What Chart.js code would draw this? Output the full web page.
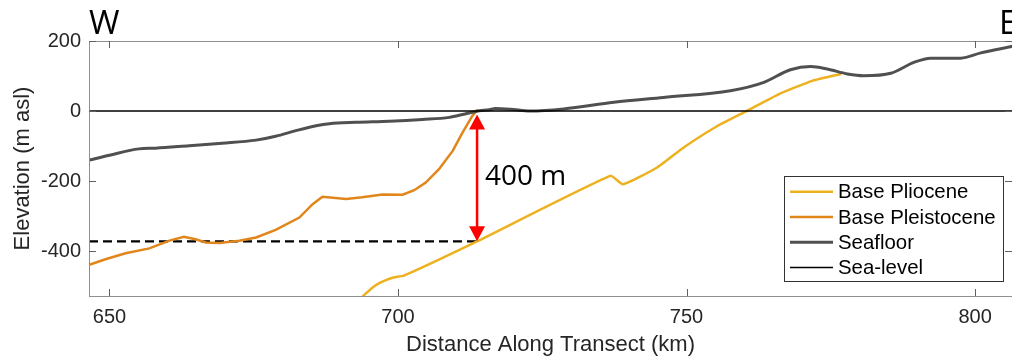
<!DOCTYPE html>
<html><head><meta charset="utf-8">
<script src="https://cdn.jsdelivr.net/npm/chart.js@4/dist/chart.umd.min.js"></script>
<style>html,body{margin:0;padding:0;background:#fff;}#wrap{width:1012px;height:360px;position:relative;}</style>
</head><body><div id="wrap"><canvas id="c" width="1012" height="360"></canvas></div>
<script>
// ---- data ----
const xTicks = [650, 700, 750, 800];
const yTicks = [-400, -200, 0, 200];

const plioceneKm   = [693.8, 695.5, 697.0, 699.2, 701.0, 713.7, 736.8, 739.0, 744.9, 749.5, 755.2, 760.4, 766.2, 771.9, 776.8];
const plioceneElev = [-530, -505, -489, -475, -470, -372, -185, -209, -161, -104, -44, 0, 50, 87, 106];

const pleistoceneKm   = [646.5, 649.3, 652.8, 656.9, 660.4, 662.9, 664.9, 666.7, 669.0, 672.5, 675.4, 678.8, 682.9, 685.2, 686.9, 691.0, 693.8, 697.3, 700.8, 702.8, 704.8, 707.1, 709.5, 711.2, 712.9, 713.8];
const pleistoceneElev = [-439, -423, -406, -392, -370, -359, -366, -375, -377, -370, -361, -339, -304, -266, -245, -251, -246, -238, -239, -226, -204, -166, -113, -61, -13, 4];

const seafloorKm   = [646.5, 650.0, 655.1, 658.0, 663.8, 669.5, 675.4, 678.8, 682.3, 685.8, 688.1, 692.7, 698.5, 704.2, 708.9, 711.2, 713.5, 715.8, 716.9, 719.5, 722.9, 728.7, 737.4, 746.0, 757.6, 763.4, 768.0, 771.5, 774.4, 777.9, 780.7, 785.4, 789.4, 792.3, 797.5, 801.0, 806.5];
const seafloorElev = [-140, -126, -108, -106, -99, -92, -83, -72, -56, -42, -36, -32, -29, -24, -18, -10, -1, 4, 7, 5, 0, 6, 25, 39, 58, 82, 118, 127, 120, 106, 101, 108, 139, 151, 151, 166, 185];

const seaLevelKm   = [646.45, 806.4];
const seaLevelElev = [0, 0];

const refLineKm   = [646.45, 713.7];
const refLineElev = [-372, -372];

const arrowKm = 713.7;
const arrowTopElev = -10;
const arrowBottomElev = -372;
const arrowLabel = '400 m';

const seriesLabels = ['Base Pliocene', 'Base Pleistocene', 'Seafloor', 'Sea-level'];

const zip = (xs, ys) => xs.map((x, i) => ({x: x, y: ys[i]}));

// ---- overlay plugin: box, inward ticks, arrow, W/E, legend ----
const overlay = {
  id: 'overlay',
  afterDatasetsDraw(chart) {
    const c = chart.ctx, a = chart.chartArea;
    const xs = chart.scales.x, ys = chart.scales.y;
    c.save();
    // box
    c.strokeStyle = '#8f8f8f'; c.lineWidth = 1;
    c.strokeRect(a.left + 0.5, a.top + 0.5, a.right - a.left, a.bottom - a.top);
    // inward ticks
    c.strokeStyle = '#606060';
    c.beginPath();
    xTicks.forEach(v => {
      const px = Math.round(xs.getPixelForValue(v)) + 0.5;
      c.moveTo(px, a.bottom); c.lineTo(px, a.bottom - 7);
      c.moveTo(px, a.top); c.lineTo(px, a.top + 7);
    });
    yTicks.forEach(v => {
      const py = Math.round(ys.getPixelForValue(v)) + 0.5;
      c.moveTo(a.left, py); c.lineTo(a.left + 7, py);
      c.moveTo(a.right, py); c.lineTo(a.right - 7, py);
    });
    c.stroke();

    // red double arrow
    const ax = xs.getPixelForValue(arrowKm);
    const yT = ys.getPixelForValue(arrowTopElev);
    const yB = ys.getPixelForValue(arrowBottomElev);
    const hl = 15, hw = 8;
    c.strokeStyle = '#ff0000'; c.fillStyle = '#ff0000'; c.lineWidth = 2.5;
    c.beginPath(); c.moveTo(ax, yT + hl - 1); c.lineTo(ax, yB - hl + 1); c.stroke();
    c.beginPath(); c.moveTo(ax, yT); c.lineTo(ax - hw, yT + hl); c.lineTo(ax + hw, yT + hl); c.closePath(); c.fill();
    c.beginPath(); c.moveTo(ax, yB); c.lineTo(ax - hw, yB - hl); c.lineTo(ax + hw, yB - hl); c.closePath(); c.fill();
    // label
    c.fillStyle = '#000'; c.font = '28px "Open Sans"'; c.textAlign = 'left'; c.textBaseline = 'alphabetic';
    c.fillText(arrowLabel, ax + 8, (yT + yB) / 2 + 7);

    // W / E
    c.font = '33px "Open Sans"'; c.textBaseline = 'alphabetic';
    c.fillText('W', a.left, 34);
    c.fillText('E', 999, 34);

    // legend
    const lx = 784.5, ly = 176.5, lw = 219, lh = 105;
    c.fillStyle = '#fff'; c.fillRect(lx, ly, lw, lh);
    c.strokeStyle = '#333'; c.lineWidth = 1; c.strokeRect(lx, ly, lw, lh);
    c.font = '20.4px "Liberation Sans"'; c.textBaseline = 'middle'; c.textAlign = 'left';
    chart.data.datasets.slice(0, 4).forEach((ds, i) => {
      const ry = 191.7 + i * 25.3;
      c.strokeStyle = ds.borderColor; c.lineWidth = ds.borderWidth;
      c.beginPath(); c.moveTo(790, ry); c.lineTo(833, ry); c.stroke();
      c.fillStyle = '#000'; c.fillText(ds.label, 838, ry + 1);
    });
    c.restore();
  }
};

const tickFont = {family: 'Liberation Sans', size: 20};
const titleFont = {family: 'Liberation Sans', size: 22};

new Chart(document.getElementById('c'), {
  type: 'line',
  data: {
    datasets: [
      {label: seriesLabels[0], data: zip(plioceneKm, plioceneElev), borderColor: '#EDB120', borderWidth: 2.5, tension: 0.15, order: 4},
      {label: seriesLabels[1], data: zip(pleistoceneKm, pleistoceneElev), borderColor: '#E0861A', borderWidth: 2.5, tension: 0, order: 3},
      {label: seriesLabels[2], data: zip(seafloorKm, seafloorElev), borderColor: '#505050', borderWidth: 3, tension: 0.4, cubicInterpolationMode: 'monotone', order: 2},
      {label: seriesLabels[3], data: zip(seaLevelKm, seaLevelElev), borderColor: '#000000', borderWidth: 1.5, tension: 0, order: 1},
      {label: 'ref', data: zip(refLineKm, refLineElev), borderColor: '#000000', borderWidth: 2.2, borderDash: [9, 5], tension: 0, order: 5}
    ]
  },
  options: {
    responsive: false, animation: false, devicePixelRatio: 1,
    layout: {padding: {top: 41, right: 0, left: 0, bottom: 0}},
    elements: {point: {radius: 0, hoverRadius: 0}},
    plugins: {legend: {display: false}, tooltip: {enabled: false}},
    scales: {
      x: {
        type: 'linear', min: 646.45, max: 806.4,
        afterBuildTicks: s => { s.ticks = xTicks.map(v => ({value: v})); },
        afterFit: s => { s.height = 64; },
        grid: {display: false, drawTicks: false}, border: {display: false},
        ticks: {font: tickFont, color: '#262626', padding: 9, maxRotation: 0, autoSkip: false},
        title: {display: true, text: 'Distance Along Transect (km)', font: titleFont, color: '#262626', padding: {top: 0, bottom: 2}}
      },
      y: {
        type: 'linear', min: -528, max: 200,
        afterBuildTicks: s => { s.ticks = yTicks.map(v => ({value: v})); },
        afterFit: s => { s.width = 89; },
        grid: {display: false, drawTicks: false}, border: {display: false},
        ticks: {font: tickFont, color: '#262626', padding: 8, autoSkip: false},
        title: {display: true, text: 'Elevation (m asl)', font: titleFont, color: '#262626', padding: {top: 10, bottom: 0}}
      }
    }
  },
  plugins: [overlay]
});
</script></body></html>
